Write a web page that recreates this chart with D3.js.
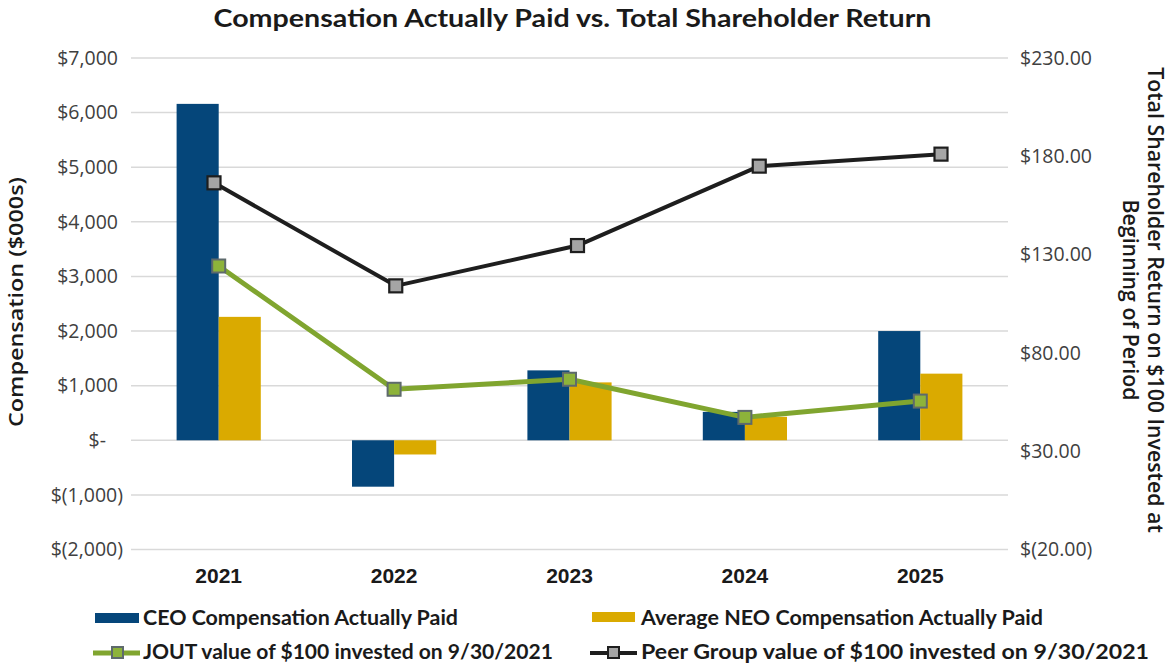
<!DOCTYPE html>
<html>
<head>
<meta charset="utf-8">
<script src="https://cdn.jsdelivr.net/npm/d3@7/dist/d3.min.js"></script>
<style>
  html, body { margin: 0; padding: 0; background: #ffffff; }
  svg { display: block; }
</style>
</head>
<body>
<svg id="chart" width="1170" height="666"></svg>
<script>
// ---------------- DATA ----------------
const years = ["2021", "2022", "2023", "2024", "2025"];
const ceoCAP = [6160, -850, 1280, 520, 2000];          // $000s
const neoCAP = [2260, -260, 1060, 430, 1220];          // $000s
const joutTSR = [124.2, 61.5, 66.6, 47.2, 55.5];       // $
const peerTSR = [166.5, 114.1, 134.6, 175.0, 181.1];   // $
const leftTicks = [-2000, -1000, 0, 1000, 2000, 3000, 4000, 5000, 6000, 7000];
const rightTicks = [-20, 30, 80, 130, 180, 230];
const seriesNames = [
  "CEO Compensation Actually Paid",
  "Average NEO Compensation Actually Paid",
  "JOUT value of $100 invested on 9/30/2021",
  "Peer Group value of $100 invested on 9/30/2021"
];
const titleText = "Compensation Actually Paid vs. Total Shareholder Return";
const leftTitle = "Compensation ($000s)";
const rightTitleLines = ["Total Shareholder Return on $100 Invested at", "Beginning of Period"];

// ---------------- LAYOUT ----------------
const svg = d3.select("#chart");
const plot = { left: 131, right: 1008, top: 58, bottom: 549.5 };
const C = {
  blue: "#05467A", gold: "#DAAA00", green: "#80A52F", greenFill: "#8DB33A",
  greenMarkerStroke: "#5E6A6C", black: "#1E1E1E", grayFill: "#A5A5A5",
  grid: "#D9D9D9", text: "#404040", dark: "#1A1A1A"
};

const x = d3.scaleBand().domain(years).range([plot.left, plot.right]).paddingInner(0).paddingOuter(0);
const groupW = x.bandwidth() * 0.48;
const xs = d3.scaleBand().domain(["ceo", "neo"]).range([0, groupW]).padding(0);
const yL = d3.scaleLinear().domain([-2000, 7000]).range([plot.bottom, plot.top]);
const yR = d3.scaleLinear().domain([-20, 230]).range([plot.bottom, plot.top]);
// peer series is plotted on a slightly wider secondary category span in the original
const xPeer = d3.scalePoint().domain(years).range([214, 941]);

// gridlines
svg.append("g").selectAll("line").data(leftTicks).join("line")
  .attr("x1", plot.left).attr("x2", plot.right)
  .attr("y1", d => yL(d)).attr("y2", d => yL(d))
  .attr("stroke", C.grid).attr("stroke-width", 1.5);

// left axis labels
const fmtL = d => d === 0 ? "$-" : (d < 0 ? "$(" + d3.format(",")(-d) + ")" : "$" + d3.format(",")(d));
const leftAxis = d3.axisLeft(yL).tickValues(leftTicks).tickSize(0).tickPadding(0).tickFormat(fmtL);
const gL = svg.append("g").attr("transform", `translate(118,0)`).call(leftAxis);
gL.select(".domain").remove();
gL.selectAll("text")
  .attr("font-family", "'Open Sans', sans-serif").attr("font-size", 19.5).attr("fill", C.text)
  .attr("dx", d => d < 0 ? 5 : (d === 0 ? -12 : 0));

// right axis labels
const fmtR = d => d < 0 ? "$(" + d3.format(".2f")(-d) + ")" : "$" + d3.format(".2f")(d);
const rightAxis = d3.axisRight(yR).tickValues(rightTicks).tickSize(0).tickPadding(0).tickFormat(fmtR);
const gR = svg.append("g").attr("transform", `translate(1020,0)`).call(rightAxis);
gR.select(".domain").remove();
gR.selectAll("text")
  .attr("font-family", "'Open Sans', sans-serif").attr("font-size", 19.5).attr("fill", C.text);

// bars
const barData = years.map((yr, i) => ({ yr, ceo: ceoCAP[i], neo: neoCAP[i] }));
const gBars = svg.append("g");
const groups = gBars.selectAll("g").data(barData).join("g")
  .attr("transform", d => `translate(${x(d.yr) + x.bandwidth() / 2 - groupW / 2},0)`);
groups.selectAll("rect").data(d => [{ k: "ceo", v: d.ceo }, { k: "neo", v: d.neo }]).join("rect")
  .attr("x", d => xs(d.k)).attr("width", xs.bandwidth())
  .attr("y", d => yL(Math.max(0, d.v)))
  .attr("height", d => Math.abs(yL(d.v) - yL(0)))
  .attr("fill", d => d.k === "ceo" ? C.blue : C.gold);

// x labels
svg.append("g").selectAll("text").data(years).join("text")
  .attr("x", d => x(d) + x.bandwidth() / 2).attr("y", 583)
  .attr("text-anchor", "middle")
  .attr("font-family", "'Liberation Sans Narrow', 'Arial Narrow', sans-serif")
  .attr("font-weight", "bold").attr("font-size", 21).attr("fill", C.dark)
  .text(d => d);

// JOUT line
const xc = d => x(d) + x.bandwidth() / 2;
const joutPts = years.map((yr, i) => [xc(yr), yR(joutTSR[i])]);
svg.append("path").attr("d", d3.line()(joutPts))
  .attr("fill", "none").attr("stroke", C.green).attr("stroke-width", 5).attr("stroke-linejoin", "round");
svg.append("g").selectAll("rect").data(joutPts).join("rect")
  .attr("x", d => d[0] - 6.5).attr("y", d => d[1] - 6.5).attr("width", 13).attr("height", 13)
  .attr("fill", C.greenFill).attr("stroke", C.greenMarkerStroke).attr("stroke-width", 2);

// Peer line
const peerPts = years.map((yr, i) => [xPeer(yr), yR(peerTSR[i])]);
svg.append("path").attr("d", d3.line()(peerPts))
  .attr("fill", "none").attr("stroke", C.black).attr("stroke-width", 4).attr("stroke-linejoin", "round");
svg.append("g").selectAll("rect").data(peerPts).join("rect")
  .attr("x", d => d[0] - 6.5).attr("y", d => d[1] - 6.5).attr("width", 13).attr("height", 13)
  .attr("fill", C.grayFill).attr("stroke", C.black).attr("stroke-width", 2.2);

// Title
svg.append("text").attr("x", 572.5).attr("y", 27).attr("text-anchor", "middle")
  .attr("font-family", "Lato, sans-serif").attr("font-weight", "bold").attr("font-size", 24)
  .attr("fill", C.dark).attr("textLength", 718).attr("lengthAdjust", "spacingAndGlyphs")
  .text(titleText);

// Left axis title
svg.append("text").attr("transform", "translate(23,302) rotate(-90)").attr("text-anchor", "middle")
  .attr("font-family", "'Open Sans', sans-serif").attr("font-weight", 600).attr("font-size", 20)
  .attr("fill", C.dark).attr("textLength", 250).attr("lengthAdjust", "spacingAndGlyphs")
  .text(leftTitle);

// Right axis title (two lines) - font size chosen so that line 1 spans 466px
const rt = svg.append("g").attr("transform", "translate(1148,300) rotate(90)");
const rtLines = rt.selectAll("text").data(rightTitleLines).join("text")
  .attr("x", 0).attr("y", (d, i) => i * 25).attr("text-anchor", "middle")
  .attr("font-family", "'Open Sans', sans-serif").attr("font-weight", 600).attr("font-size", 20)
  .attr("fill", C.dark).text(d => d);
const natural = rtLines.nodes()[0].getComputedTextLength();
rtLines.attr("font-size", 20 * 466 / natural);

// Legend
const lg = svg.append("g");
const legendFont = t => t.attr("font-family", "Lato, sans-serif").attr("font-weight", "bold")
  .attr("font-size", 21.5).attr("fill", C.dark);
// row 1
lg.append("rect").attr("x", 95).attr("y", 613).attr("width", 44).attr("height", 10).attr("fill", C.blue);
legendFont(lg.append("text").attr("x", 143).attr("y", 625).text(seriesNames[0]))
  .attr("textLength", 315).attr("lengthAdjust", "spacingAndGlyphs");
lg.append("rect").attr("x", 592).attr("y", 612).attr("width", 43).attr("height", 10).attr("fill", C.gold);
legendFont(lg.append("text").attr("x", 641).attr("y", 625).text(seriesNames[1]))
  .attr("textLength", 402).attr("lengthAdjust", "spacingAndGlyphs");
// row 2
lg.append("line").attr("x1", 93).attr("x2", 140).attr("y1", 653).attr("y2", 653)
  .attr("stroke", C.green).attr("stroke-width", 5);
lg.append("rect").attr("x", 112).attr("y", 647).attr("width", 11).attr("height", 11)
  .attr("fill", C.greenFill).attr("stroke", C.greenMarkerStroke).attr("stroke-width", 2);
legendFont(lg.append("text").attr("x", 143).attr("y", 659).text(seriesNames[2]))
  .attr("textLength", 410).attr("lengthAdjust", "spacingAndGlyphs");
lg.append("line").attr("x1", 590).attr("x2", 637).attr("y1", 653).attr("y2", 653)
  .attr("stroke", C.black).attr("stroke-width", 4);
lg.append("rect").attr("x", 608).attr("y", 647).attr("width", 11).attr("height", 11)
  .attr("fill", C.grayFill).attr("stroke", C.black).attr("stroke-width", 2);
legendFont(lg.append("text").attr("x", 641).attr("y", 659).text(seriesNames[3]))
  .attr("textLength", 508).attr("lengthAdjust", "spacingAndGlyphs");
</script>
</body>
</html>
